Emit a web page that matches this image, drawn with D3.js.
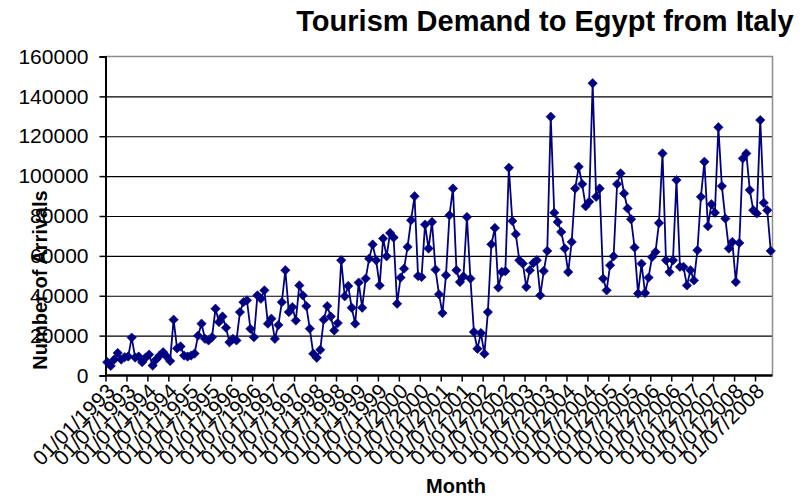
<!DOCTYPE html>
<html>
<head>
<meta charset="utf-8">
<script src="https://cdn.jsdelivr.net/npm/d3@7/dist/d3.min.js"></script>
<style>
  html, body { margin: 0; padding: 0; background: #fff; }
  svg { display: block; font-family: "Liberation Sans", Arial, sans-serif; }
</style>
</head>
<body>
<svg id="chart" width="802" height="496"></svg>
<script>
// ---- data (monthly arrivals, Jan 1993 .. Nov 2008) ----
const arrivals = [
  6700, 4800, 8000, 11300, 8000, 9200, 9500, 19000, 9000, 9500, 6700, 9000,
  10500, 5000, 8000, 10000, 11700, 9500, 7300, 28000, 13600, 14600, 10000, 9500,
  10000, 11000, 20000, 26000, 18400, 17600, 19200, 33500, 26800, 29600, 24000, 16700,
  18400, 17600, 31800, 36800, 37700, 23400, 19200, 40200, 38500, 42700, 26000, 28500,
  18400, 25300, 36800, 52800, 31800, 34300, 27600, 45200, 40200, 34800, 23500, 10900,
  8900, 12900, 28000, 34800, 29600, 22600, 26300, 57800, 39700, 44900, 34000, 26000,
  46600, 34000, 48600, 58600, 65700, 57800, 45200, 68700, 59800, 71500, 69200, 36000,
  49100, 53600, 64500, 77900, 89900, 49900, 49400, 75700, 63700, 77000, 53100, 40700,
  31300, 50300, 80400, 93800, 52800, 46900, 49700, 79500, 48600, 21800, 13400, 21300,
  10900, 31800, 65800, 74000, 44100, 51900, 52300, 104200, 77500, 70900, 57800, 56100,
  44400, 52800, 56400, 57800, 40200, 52400, 62500, 129800, 81600, 77000, 72000, 63700,
  51900, 67000, 93800, 104700, 96000, 84900, 87100, 146600, 89600, 93800, 48600, 42700,
  55300, 59800, 96000, 101400, 91300, 83800, 78400, 64200, 41100, 56100, 41400, 49100,
  59400, 62000, 76500, 111400, 57800, 51900, 57800, 98000, 54500, 54500, 45200, 52800,
  47700, 62800, 89600, 107200, 74900, 85900, 81600, 124500, 95000, 78700, 63700, 67000,
  46900, 66500, 108900, 111400, 93000, 82900, 81300, 128100, 86600, 82900, 62500
];
const tickLabels = [
  "01/01/1993", "01/07/1993", "01/01/1994", "01/07/1994", "01/01/1995", "01/07/1995",
  "01/01/1996", "01/07/1996", "01/01/1997", "01/07/1997", "01/01/1998", "01/07/1998",
  "01/01/1999", "01/07/1999", "01/01/2000", "01/07/2000", "01/01/2001", "01/07/2001",
  "01/01/2002", "01/07/2002", "01/01/2003", "01/07/2003", "01/01/2004", "01/07/2004",
  "01/01/2005", "01/07/2005", "01/01/2006", "01/07/2006", "01/01/2007", "01/07/2007",
  "01/01/2008", "01/07/2008"
];
const yTicks = [0, 20000, 40000, 60000, 80000, 100000, 120000, 140000, 160000];
const titleText = "Tourism Demand to Egypt from Italy";
const xTitle = "Month";
const yTitle = "Number of Arrivals";

// ---- layout ----
const svg = d3.select("#chart");
const L = 105.5, R = 772.5, T = 56.5, B = 375.5;
const n = arrivals.length;

const x = d3.scaleLinear().domain([0, n]).range([L, R]);
const y = d3.scaleLinear().domain([0, 160000]).range([B, T]);

// gridlines
svg.append("g")
  .attr("transform", `translate(${L},0)`)
  .call(d3.axisLeft(y).tickValues(yTicks.slice(1, -1)).tickSize(-(R - L)).tickFormat(""))
  .call(g => g.select(".domain").remove())
  .call(g => g.selectAll("line").attr("stroke", "#000").attr("stroke-width", 1.2));

// plot border (top & right grey)
svg.append("path")
  .attr("d", `M${L},${T}H${R}V${B}`)
  .attr("fill", "none").attr("stroke", "#8c8c8c").attr("stroke-width", 1.5);

// y axis
const yAxis = svg.append("g")
  .attr("transform", `translate(${L},0)`)
  .call(d3.axisLeft(y).tickValues(yTicks).tickSize(6).tickPadding(11).tickFormat(d3.format("d")));
yAxis.select(".domain").attr("stroke", "#000").attr("stroke-width", 2);
yAxis.selectAll("line").attr("stroke", "#000").attr("stroke-width", 1.5);
yAxis.selectAll("text").attr("font-size", 21).attr("fill", "#000")
  .attr("font-family", "'Liberation Sans', Arial, sans-serif");

// x axis
const tickIdx = tickLabels.map((_, i) => i * 6);
const xAxis = svg.append("g")
  .attr("transform", `translate(0,${B})`)
  .call(d3.axisBottom(x).tickValues(tickIdx).tickSize(6)
    .tickFormat((d, i) => tickLabels[i]));
xAxis.select(".domain").attr("d", `M${L},0H${R}`).attr("stroke", "#000").attr("stroke-width", 2.5);
xAxis.selectAll("line").attr("stroke", "#000").attr("stroke-width", 1.5);
xAxis.selectAll("text")
  .attr("font-size", 21).attr("fill", "#000")
  .attr("font-family", "'Liberation Sans', Arial, sans-serif")
  .attr("text-anchor", "end")
  .attr("x", -5).attr("y", 19).attr("dy", null)
  .attr("transform", "rotate(-45)");

// line
const line = d3.line()
  .x((d, i) => x(i + 0.5))
  .y(d => y(d));
svg.append("path")
  .datum(arrivals)
  .attr("d", line)
  .attr("fill", "none")
  .attr("stroke", "#000080")
  .attr("stroke-width", 1.8);

// diamond markers
const diamond = d3.symbol().type(d3.symbolDiamond2).size(56);
svg.append("g").selectAll("path")
  .data(arrivals)
  .join("path")
  .attr("transform", (d, i) => `translate(${x(i + 0.5)},${y(d)})`)
  .attr("d", diamond)
  .attr("fill", "#000080")
  .attr("stroke", "#000080")
  .attr("stroke-width", 0.6);

// titles
svg.append("text")
  .attr("x", 545).attr("y", 31)
  .attr("text-anchor", "middle")
  .attr("font-size", 29).attr("font-weight", "bold")
  .text(titleText);

svg.append("text")
  .attr("x", 456).attr("y", 493)
  .attr("text-anchor", "middle")
  .attr("font-size", 20).attr("font-weight", "bold")
  .text(xTitle);

svg.append("text")
  .attr("transform", "translate(47,280) rotate(-90)")
  .attr("text-anchor", "middle")
  .attr("font-size", 20).attr("font-weight", "bold")
  .text(yTitle);
</script>
</body>
</html>
